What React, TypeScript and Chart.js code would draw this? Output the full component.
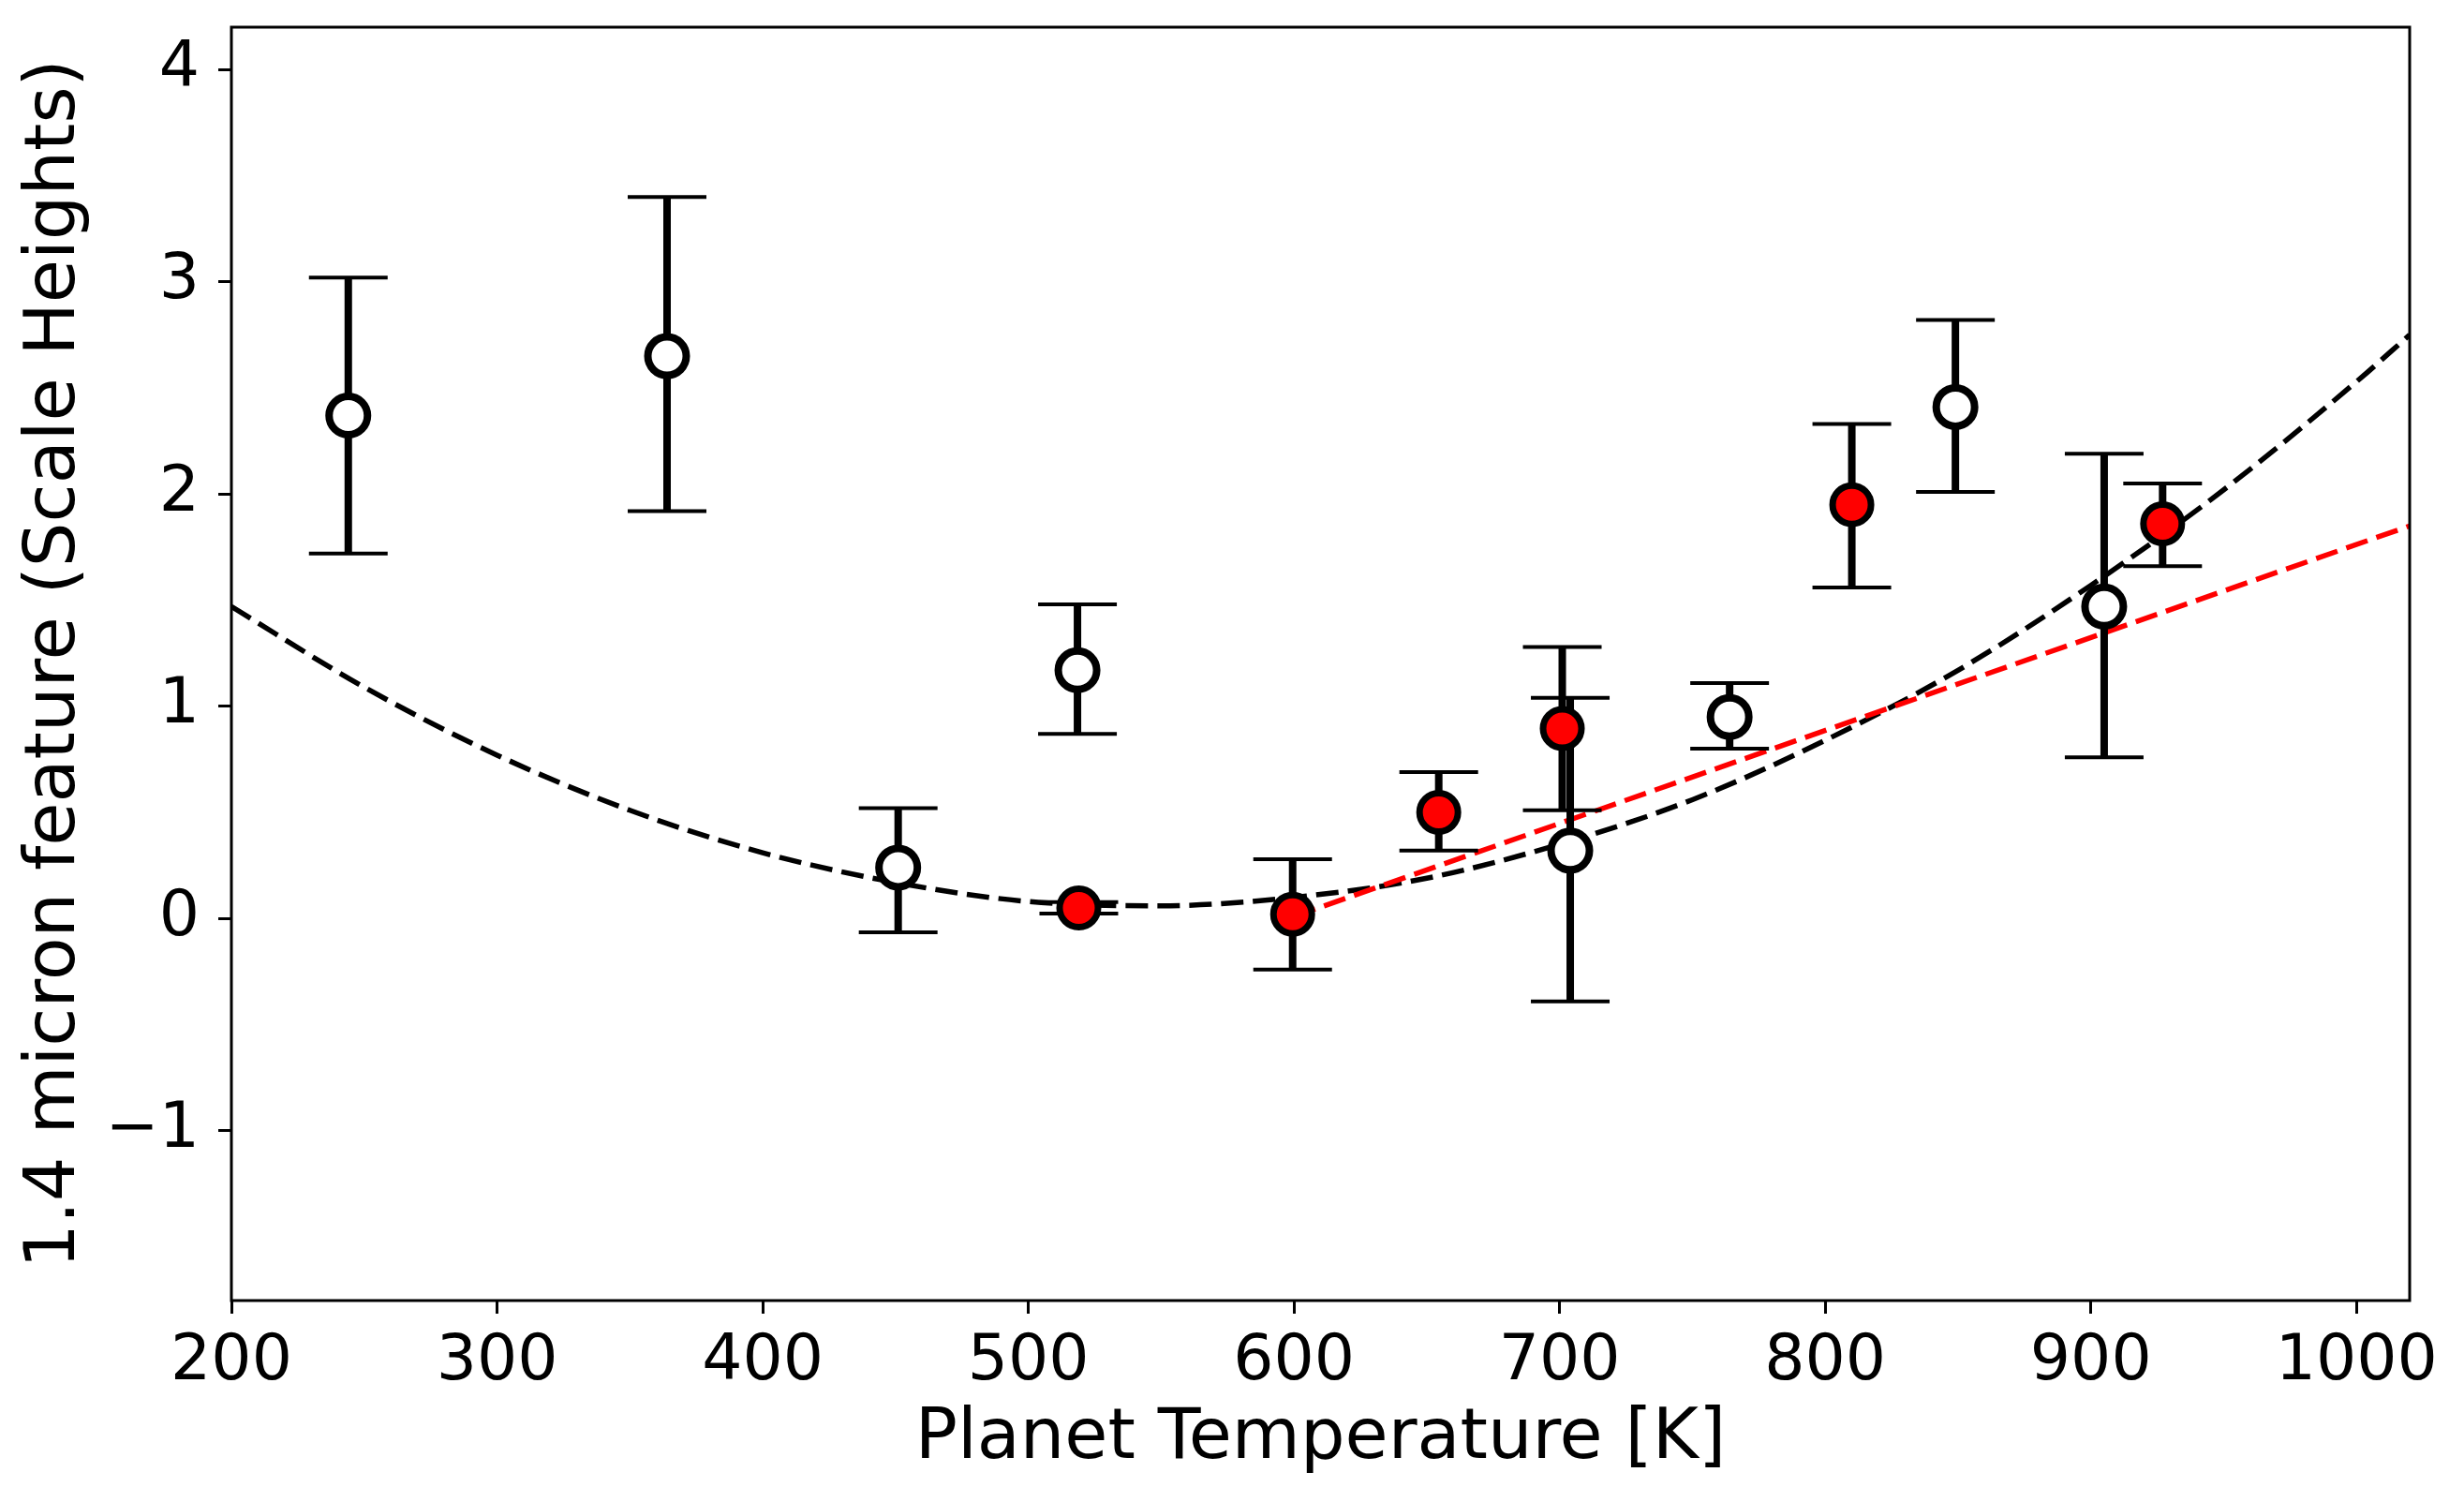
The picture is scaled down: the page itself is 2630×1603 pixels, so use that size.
import { useEffect, useRef } from 'react';
import { Chart, registerables } from 'chart.js';

Chart.register(...registerables);

// Axis ticks
const xTicks = [200, 300, 400, 500, 600, 700, 800, 900, 1000];
const yTicks = [-1, 0, 1, 2, 3, 4];
const xMin = 200;
const xMax = 1020;
const yMin = -1.8;
const yMax = 4.2;

// Open (white) points
const openTemp = [244, 364, 451, 518.5, 704, 764, 849, 905];
const openVal = [2.37, 2.65, 0.24, 1.17, 0.32, 0.95, 2.41, 1.47];
const openLow = [1.72, 1.92, -0.065, 0.87, -0.39, 0.8, 2.01, 0.76];
const openHigh = [3.02, 3.4, 0.52, 1.48, 1.04, 1.11, 2.82, 2.19];

// Filled (red) points
const redTemp = [519, 599.5, 654.5, 701, 810, 927];
const redVal = [0.05, 0.02, 0.5, 0.895, 1.95, 1.86];
const redLow = [0.023, -0.24, 0.32, 0.51, 1.56, 1.66];
const redHigh = [0.078, 0.28, 0.69, 1.28, 2.33, 2.05];

// Black dashed curve
const curveTemp = [200, 250, 300, 350, 400, 450, 500, 550, 600, 650, 700, 750, 800, 850, 900, 950, 1000, 1020];
const curveVal = [1.47, 1.09, 0.77, 0.51, 0.31, 0.17, 0.08, 0.06, 0.1, 0.19, 0.35, 0.56, 0.84, 1.17, 1.57, 2.02, 2.53, 2.75];

// Red dashed line
const redLineTemp = [600, 1020];
const redLineVal = [0.01, 1.85];

const FONT = 'DejaVu Sans';

const errorBarPlugin = {
  id: 'errorBars',
  beforeDatasetDraw(chart: any, args: any) {
    const ds = chart.data.datasets[args.index];
    if (!ds.errLow) return;
    const ys = chart.scales.y;
    const ctx = chart.ctx;
    ctx.save();
    ctx.strokeStyle = '#000';
    ctx.lineCap = 'butt';
    args.meta.data.forEach((pt: any, i: number) => {
      const x = pt.x;
      const yl = ys.getPixelForValue(ds.errLow[i]);
      const yh = ys.getPixelForValue(ds.errHigh[i]);
      ctx.lineWidth = 8;
      ctx.beginPath();
      ctx.moveTo(x, yl);
      ctx.lineTo(x, yh);
      ctx.stroke();
      ctx.lineWidth = 4;
      ctx.beginPath();
      ctx.moveTo(x - 42, yl);
      ctx.lineTo(x + 42, yl);
      ctx.moveTo(x - 42, yh);
      ctx.lineTo(x + 42, yh);
      ctx.stroke();
    });
    ctx.restore();
  },
};

const framePlugin = {
  id: 'frame',
  afterDraw(chart: any) {
    const { ctx, chartArea } = chart;
    ctx.save();
    ctx.strokeStyle = '#000';
    ctx.lineWidth = 3;
    ctx.strokeRect(chartArea.left, chartArea.top, chartArea.right - chartArea.left, chartArea.bottom - chartArea.top);
    ctx.restore();
  },
};

export default function App() {
  const ref = useRef<HTMLCanvasElement | null>(null);

  useEffect(() => {
    if (!ref.current) return;
    const chart = new Chart(ref.current, {
      type: 'scatter',
      data: {
        datasets: [
          {
            label: 'fit',
            data: curveTemp.map((t, i) => ({ x: t, y: curveVal[i] })),
            showLine: true,
            borderColor: '#000',
            borderWidth: 5.5,
            borderDash: [24, 10],
            pointRadius: 0,
            cubicInterpolationMode: 'monotone',
            order: 4,
          } as any,
          {
            label: 'linear',
            data: redLineTemp.map((t, i) => ({ x: t, y: redLineVal[i] })),
            showLine: true,
            borderColor: '#ff0000',
            borderWidth: 5.5,
            borderDash: [24, 10],
            pointRadius: 0,
            order: 3,
          } as any,
          {
            label: 'open',
            data: openTemp.map((t, i) => ({ x: t, y: openVal[i] })),
            errLow: openLow,
            errHigh: openHigh,
            backgroundColor: '#ffffff',
            borderColor: '#000',
            borderWidth: 8,
            pointRadius: 20.5,
            pointHoverRadius: 20.5,
            order: 2,
          } as any,
          {
            label: 'red',
            data: redTemp.map((t, i) => ({ x: t, y: redVal[i] })),
            errLow: redLow,
            errHigh: redHigh,
            backgroundColor: '#ff0000',
            borderColor: '#000',
            borderWidth: 7,
            pointRadius: 20.5,
            pointHoverRadius: 20.5,
            order: 1,
          } as any,
        ],
      },
      options: {
        responsive: false,
        animation: false,
        events: [],
        layout: { padding: { top: 29, right: 58, left: 0, bottom: 0 } },
        plugins: {
          legend: { display: false },
          tooltip: { enabled: false },
        },
        scales: {
          x: {
            type: 'linear',
            min: xMin,
            max: xMax,
            afterBuildTicks: (scale: any) => {
              scale.ticks = xTicks.map((v) => ({ value: v }));
            },
            afterFit: (scale: any) => {
              scale.height = 215;
              scale.paddingLeft = 0;
              scale.paddingRight = 0;
            },
            grid: {
              display: true,
              drawOnChartArea: false,
              drawTicks: true,
              tickLength: 14,
              tickWidth: 3,
              tickColor: '#000',
            },
            border: { display: false },
            ticks: {
              autoSkip: false,
              maxRotation: 0,
              padding: 12,
              color: '#000',
              font: { family: FONT, size: 68 },
              callback: (v: any) => String(v),
            },
            title: {
              display: true,
              text: 'Planet Temperature [K]',
              color: '#000',
              font: { family: FONT, size: 75 },
              padding: { top: 0, bottom: 21 },
            },
          },
          y: {
            type: 'linear',
            min: yMin,
            max: yMax,
            afterBuildTicks: (scale: any) => {
              scale.ticks = yTicks.map((v) => ({ value: v }));
            },
            afterFit: (scale: any) => {
              scale.width = 247;
              scale.paddingTop = 0;
              scale.paddingBottom = 0;
            },
            grid: {
              display: true,
              drawOnChartArea: false,
              drawTicks: true,
              tickLength: 14,
              tickWidth: 3,
              tickColor: '#000',
            },
            border: { display: false },
            ticks: {
              autoSkip: false,
              padding: 20,
              color: '#000',
              font: { family: FONT, size: 68 },
              callback: (v: any) => (v < 0 ? '\u2212' + Math.abs(v) : String(v)),
            },
            title: {
              display: true,
              text: '1.4 micron feature (Scale Heights)',
              color: '#000',
              font: { family: FONT, size: 75 },
              padding: { top: 15, bottom: 0 },
            },
          },
        },
      } as any,
      plugins: [errorBarPlugin, framePlugin],
    });
    return () => chart.destroy();
  }, []);

  return (
    <div style={{ position: 'absolute', left: 0, top: 0, width: 2630, height: 1603, background: '#fff' }}>
      <canvas ref={ref} width={2630} height={1603} style={{ display: 'block' }} />
    </div>
  );
}
